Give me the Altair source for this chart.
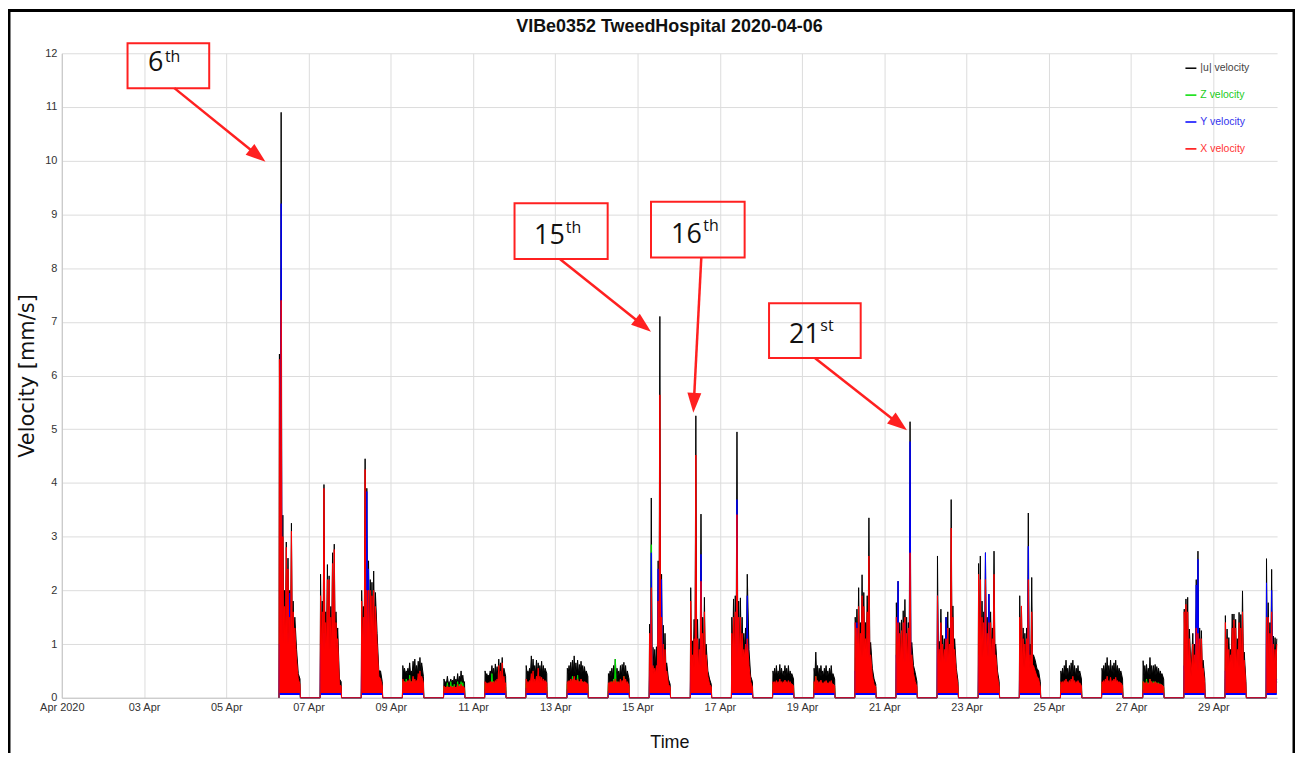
import math
import altair as alt
import pandas as pd

# ---------------------------------------------------------------- text
TITLE = "VIBe0352 TweedHospital 2020-04-06"
X_TITLE = "Time"
Y_TITLE = "Velocity [mm/s]"

# ---------------------------------------------------------------- series
SERIES = ["|u| velocity", "Z velocity", "Y velocity", "X velocity"]   # drawing order
SERIES_COLORS = ["#000000", "#00dd00", "#0000ff", "#ff0000"]
LEGEND_TEXT_COLORS = ["#444444", "#22cc22", "#3333ee", "#ff3333"]
AREA_FLOORS = [0.10, 0.07, 0.05, 0.09]

DAYS = list(range(6, 31))            # April 6 .. April 30
SAMPLE_HOURS = list(range(7, 20))    # 07:00 .. 19:00 (April 30 stops at 13:00)
TICK_DAYS = list(range(1, 30, 2))    # 01, 03, ..., 29 April

# hourly peak readings, one row per day (April 6 .. 30)
U_VEL = [
    [6.4, 10.9, 3.4, 2.0, 2.9, 2.6, 2.0, 3.25, 1.8, 1.5, 0.9, 0.45, 0.35],
    [2.3, 1.8, 3.97, 1.6, 2.48, 2.27, 1.7, 2.7, 2.86, 1.6, 1.3, 0.35, 0.3],
    [2.0, 1.7, 4.45, 3.9, 2.55, 2.2, 2.15, 2.36, 1.96, 1.2, 0.5, 0.5, 0.3],
    [0.6, 0.55, 0.5, 0.55, 0.65, 0.5, 0.68, 0.72, 0.6, 0.68, 0.75, 0.65, 0.4],
    [0.35, 0.3, 0.4, 0.3, 0.35, 0.33, 0.4, 0.35, 0.45, 0.4, 0.5, 0.42, 0.3],
    [0.5, 0.45, 0.42, 0.5, 0.6, 0.55, 0.63, 0.58, 0.72, 0.65, 0.75, 0.55, 0.4],
    [0.6, 0.5, 0.55, 0.78, 0.72, 0.6, 0.7, 0.65, 0.6, 0.68, 0.6, 0.55, 0.45],
    [0.55, 0.6, 0.66, 0.7, 0.78, 0.65, 0.7, 0.62, 0.68, 0.6, 0.58, 0.5, 0.4],
    [0.45, 0.5, 0.55, 0.6, 0.72, 0.55, 0.5, 0.6, 0.62, 0.66, 0.6, 0.5, 0.35],
    [1.37, 3.72, 0.94, 0.9, 0.95, 2.55, 7.1, 2.3, 1.35, 1.2, 0.65, 0.35, 0.25],
    [2.05, 1.06, 1.46, 5.25, 1.46, 1.1, 3.42, 1.5, 1.87, 1.0, 0.5, 0.35, 0.25],
    [1.5, 1.84, 1.9, 4.95, 1.8, 1.86, 1.5, 1.2, 1.3, 2.3, 0.9, 0.4, 0.3],
    [0.5, 0.55, 0.6, 0.5, 0.62, 0.55, 0.5, 0.6, 0.55, 0.6, 0.5, 0.45, 0.35],
    [0.55, 0.85, 0.6, 0.55, 0.6, 0.5, 0.55, 0.6, 0.5, 0.55, 0.6, 0.45, 0.35],
    [1.5, 1.65, 2.05, 1.4, 2.29, 1.96, 1.4, 1.9, 3.35, 1.03, 0.55, 0.35, 0.25],
    [1.77, 2.17, 1.4, 1.45, 1.62, 1.83, 1.5, 1.4, 5.14, 1.03, 0.6, 0.47, 0.3],
    [2.64, 1.05, 1.65, 1.16, 1.1, 1.5, 1.6, 1.3, 3.69, 1.71, 1.1, 0.55, 0.3],
    [2.5, 2.64, 1.8, 1.6, 2.7, 1.5, 1.93, 1.6, 1.3, 2.73, 1.0, 0.5, 0.3],
    [1.9, 1.7, 1.3, 1.2, 1.3, 3.44, 1.0, 2.24, 0.8, 0.7, 0.55, 0.5, 0.3],
    [0.5, 0.55, 0.6, 0.7, 0.55, 0.6, 0.65, 0.7, 0.6, 0.55, 0.6, 0.5, 0.35],
    [0.55, 0.6, 0.65, 0.75, 0.6, 0.7, 0.6, 0.65, 0.7, 0.6, 0.55, 0.5, 0.35],
    [0.69, 0.6, 0.62, 0.55, 0.75, 0.6, 0.6, 0.62, 0.58, 0.55, 0.5, 0.45, 0.35],
    [1.65, 1.84, 1.87, 1.28, 0.5, 1.2, 1.0, 2.2, 2.73, 1.3, 1.25, 0.7, 0.35],
    [1.53, 1.28, 1.12, 0.9, 1.56, 1.56, 1.46, 1.1, 1.59, 1.55, 1.99, 0.85, 0.3],
    [2.59, 1.77, 1.4, 2.39, 1.15, 1.12, 1.1],
]

X_VEL = [
    [6.3, 7.4, 3.0, 1.7, 2.8, 2.4, 1.5, 3.1, 1.6, 1.3, 0.7, 0.35, 0.25],
    [1.9, 1.6, 3.9, 1.4, 2.2, 2.2, 1.5, 2.5, 2.76, 1.4, 1.1, 0.25, 0.22],
    [1.8, 1.5, 4.25, 2.0, 2.0, 2.0, 1.9, 2.0, 1.7, 1.0, 0.4, 0.35, 0.22],
    [0.35, 0.3, 0.3, 0.32, 0.35, 0.3, 0.4, 0.35, 0.32, 0.45, 0.5, 0.4, 0.28],
    [0.22, 0.2, 0.22, 0.2, 0.22, 0.2, 0.22, 0.2, 0.25, 0.22, 0.25, 0.22, 0.18],
    [0.3, 0.28, 0.28, 0.3, 0.3, 0.3, 0.32, 0.35, 0.6, 0.5, 0.65, 0.4, 0.28],
    [0.35, 0.3, 0.32, 0.45, 0.5, 0.35, 0.4, 0.55, 0.4, 0.38, 0.35, 0.32, 0.28],
    [0.3, 0.32, 0.35, 0.35, 0.4, 0.33, 0.35, 0.3, 0.35, 0.3, 0.3, 0.28, 0.25],
    [0.28, 0.3, 0.3, 0.32, 0.35, 0.3, 0.3, 0.35, 0.32, 0.4, 0.35, 0.3, 0.22],
    [1.2, 2.05, 0.6, 0.55, 0.6, 1.8, 5.64, 1.5, 1.0, 0.9, 0.5, 0.25, 0.2],
    [1.8, 0.8, 1.1, 4.52, 1.1, 0.9, 2.17, 1.2, 1.6, 0.8, 0.4, 0.25, 0.2],
    [1.2, 1.5, 1.6, 3.41, 1.5, 1.5, 1.2, 0.9, 1.0, 1.1, 0.6, 0.3, 0.2],
    [0.3, 0.3, 0.32, 0.3, 0.35, 0.3, 0.3, 0.33, 0.3, 0.32, 0.3, 0.26, 0.22],
    [0.3, 0.4, 0.32, 0.3, 0.33, 0.28, 0.3, 0.32, 0.28, 0.3, 0.32, 0.26, 0.22],
    [1.4, 1.3, 1.7, 1.2, 1.9, 1.7, 1.1, 1.6, 2.64, 0.8, 0.4, 0.25, 0.2],
    [1.5, 1.4, 1.2, 1.25, 1.4, 1.5, 1.2, 1.3, 2.7, 0.8, 0.45, 0.3, 0.2],
    [1.9, 0.9, 1.4, 1.0, 0.9, 1.1, 1.3, 1.0, 3.16, 1.5, 0.9, 0.45, 0.2],
    [2.3, 2.2, 1.5, 1.4, 2.2, 1.2, 1.4, 1.4, 1.1, 2.3, 0.8, 0.4, 0.2],
    [1.5, 1.71, 1.1, 1.0, 1.1, 2.2, 0.8, 1.6, 0.6, 0.5, 0.4, 0.35, 0.2],
    [0.3, 0.3, 0.32, 0.35, 0.3, 0.32, 0.35, 0.4, 0.32, 0.3, 0.32, 0.28, 0.22],
    [0.3, 0.32, 0.35, 0.4, 0.32, 0.38, 0.32, 0.35, 0.38, 0.32, 0.3, 0.28, 0.22],
    [0.3, 0.28, 0.3, 0.26, 0.35, 0.3, 0.28, 0.3, 0.28, 0.26, 0.25, 0.24, 0.2],
    [1.6, 1.74, 1.6, 1.1, 0.4, 1.0, 0.8, 1.3, 1.2, 1.1, 1.1, 0.55, 0.25],
    [1.4, 1.1, 0.9, 0.8, 1.3, 1.45, 1.3, 0.9, 1.4, 1.3, 1.6, 0.7, 0.22],
    [1.5, 1.5, 1.2, 1.6, 1.0, 0.9, 1.0],
]

Y_VEL = [
    [1.0, 9.2, 1.2, 0.8, 1.0, 1.2, 1.95, 1.0, 1.2, 0.8, 0.4, 0.2, 0.12],
    [1.0, 0.7, 1.2, 0.8, 1.0, 0.9, 0.8, 1.0, 1.0, 0.6, 0.5, 0.15, 0.12],
    [0.8, 0.7, 1.5, 3.84, 2.4, 1.0, 1.2, 1.0, 0.9, 0.6, 0.25, 0.25, 0.12],
    [0.2, 0.18, 0.2, 0.2, 0.22, 0.2, 0.25, 0.22, 0.2, 0.25, 0.25, 0.22, 0.15],
    [0.12, 0.12, 0.13, 0.12, 0.12, 0.12, 0.13, 0.12, 0.14, 0.13, 0.14, 0.13, 0.1],
    [0.15, 0.15, 0.15, 0.15, 0.16, 0.16, 0.18, 0.16, 0.2, 0.18, 0.2, 0.16, 0.12],
    [0.18, 0.15, 0.16, 0.2, 0.2, 0.18, 0.2, 0.2, 0.18, 0.18, 0.17, 0.16, 0.13],
    [0.15, 0.15, 0.16, 0.17, 0.18, 0.16, 0.17, 0.15, 0.16, 0.15, 0.15, 0.14, 0.12],
    [0.13, 0.14, 0.15, 0.15, 0.16, 0.15, 0.15, 0.16, 0.15, 0.17, 0.15, 0.14, 0.1],
    [0.5, 2.7, 0.4, 0.35, 0.4, 2.4, 1.5, 2.2, 0.6, 0.6, 0.3, 0.15, 0.1],
    [0.6, 0.4, 0.5, 1.5, 0.5, 0.4, 2.67, 0.6, 0.7, 0.4, 0.2, 0.14, 0.1],
    [0.6, 0.8, 1.0, 3.69, 0.9, 1.0, 0.7, 0.6, 0.8, 1.9, 0.4, 0.15, 0.1],
    [0.15, 0.15, 0.16, 0.15, 0.17, 0.15, 0.15, 0.16, 0.15, 0.16, 0.15, 0.13, 0.11],
    [0.15, 0.18, 0.16, 0.15, 0.16, 0.15, 0.15, 0.16, 0.15, 0.15, 0.16, 0.13, 0.11],
    [0.5, 1.4, 0.6, 0.6, 0.8, 0.7, 0.5, 0.7, 1.2, 0.4, 0.2, 0.13, 0.1],
    [0.8, 2.17, 0.6, 0.6, 0.7, 1.4, 0.6, 0.6, 4.77, 0.4, 0.25, 0.2, 0.1],
    [1.9, 0.5, 0.7, 0.5, 0.5, 1.5, 0.7, 0.6, 1.4, 0.6, 0.4, 0.2, 0.1],
    [0.8, 0.9, 0.7, 0.6, 2.7, 0.6, 1.93, 0.6, 0.5, 1.0, 0.4, 0.2, 0.1],
    [0.7, 0.6, 0.5, 0.5, 0.5, 2.82, 0.4, 0.9, 0.3, 0.3, 0.2, 0.2, 0.1],
    [0.15, 0.15, 0.16, 0.17, 0.15, 0.16, 0.17, 0.18, 0.16, 0.15, 0.16, 0.14, 0.1],
    [0.15, 0.16, 0.16, 0.18, 0.16, 0.17, 0.16, 0.16, 0.17, 0.16, 0.15, 0.14, 0.1],
    [0.15, 0.14, 0.15, 0.14, 0.17, 0.15, 0.14, 0.15, 0.14, 0.14, 0.13, 0.12, 0.1],
    [0.6, 0.7, 0.8, 0.5, 0.2, 0.5, 0.5, 2.1, 2.58, 0.6, 0.5, 0.3, 0.12],
    [0.5, 0.5, 0.4, 0.4, 0.6, 0.5, 0.5, 0.4, 0.6, 0.6, 0.8, 0.3, 0.1],
    [2.14, 0.6, 0.5, 2.0, 0.4, 0.4, 0.35],
]

Z_VEL = [
    [0.2, 0.5, 0.3, 0.2, 0.3, 0.3, 0.3, 0.3, 0.3, 0.25, 0.2, 0.15, 0.12],
    [0.3, 0.3, 0.4, 0.3, 0.35, 0.3, 0.3, 0.35, 0.4, 0.3, 0.25, 0.15, 0.13],
    [0.3, 0.3, 0.4, 0.4, 0.35, 0.3, 0.3, 0.3, 0.3, 0.25, 0.2, 0.2, 0.13],
    [0.3, 0.3, 0.35, 0.3, 0.42, 0.3, 0.35, 0.3, 0.3, 0.35, 0.3, 0.3, 0.2],
    [0.2, 0.2, 0.28, 0.2, 0.3, 0.22, 0.25, 0.2, 0.3, 0.25, 0.3, 0.28, 0.18],
    [0.25, 0.25, 0.25, 0.28, 0.45, 0.3, 0.3, 0.3, 0.35, 0.3, 0.3, 0.28, 0.2],
    [0.25, 0.25, 0.28, 0.3, 0.3, 0.3, 0.3, 0.3, 0.28, 0.3, 0.28, 0.25, 0.2],
    [0.25, 0.3, 0.3, 0.4, 0.35, 0.3, 0.42, 0.3, 0.3, 0.3, 0.28, 0.25, 0.2],
    [0.25, 0.28, 0.3, 0.35, 0.72, 0.3, 0.28, 0.3, 0.3, 0.4, 0.3, 0.25, 0.18],
    [0.4, 2.85, 0.4, 0.35, 0.4, 0.5, 0.6, 0.5, 0.4, 0.4, 0.25, 0.15, 0.12],
    [0.4, 0.35, 0.4, 0.5, 0.35, 0.3, 0.5, 0.35, 0.4, 0.35, 0.2, 0.15, 0.12],
    [0.35, 0.4, 0.4, 0.5, 0.4, 0.4, 0.35, 0.3, 0.35, 0.35, 0.25, 0.15, 0.12],
    [0.25, 0.28, 0.3, 0.25, 0.3, 0.28, 0.25, 0.3, 0.28, 0.3, 0.25, 0.22, 0.18],
    [0.26, 0.4, 0.3, 0.28, 0.3, 0.26, 0.28, 0.3, 0.26, 0.28, 0.3, 0.22, 0.18],
    [0.35, 0.35, 0.4, 0.35, 0.4, 0.4, 0.35, 0.4, 0.5, 0.3, 0.2, 0.15, 0.12],
    [0.35, 0.4, 0.35, 0.35, 0.35, 0.4, 0.35, 0.35, 0.5, 0.35, 0.3, 0.25, 0.12],
    [0.4, 0.35, 0.45, 0.35, 0.35, 0.4, 0.4, 0.35, 0.5, 0.4, 0.35, 0.25, 0.12],
    [0.4, 0.45, 0.4, 0.35, 0.4, 0.35, 0.4, 0.35, 0.35, 0.4, 0.3, 0.2, 0.12],
    [0.35, 0.35, 0.35, 0.3, 0.35, 0.5, 0.3, 0.4, 0.3, 0.25, 0.2, 0.2, 0.12],
    [0.25, 0.28, 0.3, 0.3, 0.28, 0.3, 0.3, 0.3, 0.28, 0.26, 0.28, 0.24, 0.18],
    [0.26, 0.28, 0.3, 0.32, 0.28, 0.3, 0.28, 0.3, 0.3, 0.28, 0.26, 0.24, 0.18],
    [0.3, 0.28, 0.35, 0.28, 0.35, 0.3, 0.3, 0.3, 0.28, 0.28, 0.26, 0.24, 0.18],
    [0.35, 0.4, 0.4, 0.35, 0.25, 0.35, 0.3, 0.4, 0.45, 0.35, 0.35, 0.25, 0.15],
    [0.35, 0.3, 0.3, 0.3, 0.35, 0.35, 0.35, 0.3, 0.35, 0.35, 0.4, 0.25, 0.13],
    [0.35, 0.35, 0.3, 0.4, 0.3, 0.3, 0.3],
]

# typical low level between the hourly peaks, one value per day (April 6 .. 30)
U_LOW = [1.2, 1.1, 1.2, 0.45, 0.28, 0.4, 0.45, 0.45, 0.4, 0.6, 0.7, 0.9, 0.4,
         0.4, 0.9, 0.8, 0.8, 0.9, 0.7, 0.4, 0.45, 0.42, 0.6, 0.7, 0.7]
X_LOW = [1.0, 0.9, 1.0, 0.28, 0.18, 0.25, 0.28, 0.28, 0.25, 0.45, 0.55, 0.75, 0.25,
         0.25, 0.75, 0.65, 0.65, 0.75, 0.55, 0.25, 0.27, 0.25, 0.5, 0.55, 0.55]
Y_LOW = [0.4, 0.4, 0.4, 0.15, 0.1, 0.13, 0.14, 0.13, 0.12, 0.2, 0.25, 0.3, 0.12,
         0.12, 0.3, 0.3, 0.3, 0.3, 0.25, 0.12, 0.13, 0.12, 0.22, 0.25, 0.3]
Z_LOW = [0.2, 0.2, 0.2, 0.2, 0.15, 0.2, 0.2, 0.2, 0.2, 0.2, 0.2, 0.2, 0.2,
         0.2, 0.2, 0.2, 0.2, 0.2, 0.2, 0.2, 0.2, 0.2, 0.2, 0.2, 0.2]

SERIES_DATA = [U_VEL, Z_VEL, Y_VEL, X_VEL]
SERIES_LOW = [U_LOW, Z_LOW, Y_LOW, X_LOW]

# annotation call-outs (label, superscript) -- placed in pixel space of the plot
ANNOTATIONS = [
    {"main": "6", "sup": "th", "box": (66, -10, 148, 35), "main_at": (102, 18), "sup_at": (103.5, 8.5),
     "tail": (113, 35), "tip": (204.5, 109)},
    {"main": "15", "sup": "th", "box": (454.5, 150.5, 548, 206.5), "main_at": (505, 191.5), "sup_at": (506, 180),
     "tail": (500, 206.5), "tip": (591.5, 279.5)},
    {"main": "16", "sup": "th", "box": (591.5, 149, 685.5, 205), "main_at": (642.5, 190), "sup_at": (644, 178),
     "tail": (642, 205), "tip": (634, 361)},
    {"main": "21", "sup": "st", "box": (710, 251, 802, 306), "main_at": (761, 291), "sup_at": (761.5, 279),
     "tail": (756, 306), "tip": (848.5, 378.5)},
]

# ---------------------------------------------------------------- styles
FONT = "Liberation Sans, Arial, sans-serif"
FONT_ANN = "Open Sans, Liberation Sans, sans-serif"
ANN_RED = "#ff2020"
PLOT_W, PLOT_H = 1220, 647

# ---------------------------------------------------------------- tables
line_rows, area_rows = [], []
for s_name, table, lows in zip(SERIES, SERIES_DATA, SERIES_LOW):
    for day, vals, low in zip(DAYS, table, lows):
        line_rows.append({"series": s_name, "day": day, "t": pd.Timestamp(2020, 4, day, 6, 45), "v": 0.0})
        for k, (h, v) in enumerate(zip(SAMPLE_HOURS, vals)):
            ts = pd.Timestamp(2020, 4, day, h)
            line_rows.append({"series": s_name, "day": day, "t": ts, "v": v})
            area_rows.append({"series": s_name, "day": day, "t": ts, "v": v})
            if k + 1 < len(vals) and v > low and vals[k + 1] > low:
                tm = pd.Timestamp(2020, 4, day, h, 30)
                line_rows.append({"series": s_name, "day": day, "t": tm, "v": low})
                area_rows.append({"series": s_name, "day": day, "t": tm, "v": low})
        if len(vals) == len(SAMPLE_HOURS):
            line_rows.append({"series": s_name, "day": day, "t": pd.Timestamp(2020, 4, day, 19, 15), "v": 0.0})

line_df = pd.DataFrame(line_rows)
area_df = pd.DataFrame(area_rows)
ONE = pd.DataFrame({"k": [0]})

x_enc = alt.X(
    "t:T",
    title=X_TITLE,
    scale=alt.Scale(domain=[alt.DateTime(year=2020, month=4, date=1),
                            alt.DateTime(year=2020, month=4, date=30, hours=13, minutes=10)]),
    axis=alt.Axis(
        values=[alt.DateTime(year=2020, month=4, date=d) for d in TICK_DAYS],
        labelExpr="date(datum.value) == 1 ? 'Apr 2020' : timeFormat(datum.value, '%d %b')",
        labelFlush=False, labelFont=FONT, labelFontSize=11, labelColor="#333333",
        labelPadding=4, ticks=False, grid=True, gridColor="#dcdcdc", domainColor="#c4c4c4",
        titleFont=FONT, titleFontSize=18, titleFontWeight="normal", titleColor="#111111",
        titleY=50, titleBaseline="alphabetic",
    ),
)
y_axis = alt.Axis(
    values=list(range(0, 13)), labelFont=FONT, labelFontSize=11, labelColor="#333333",
    labelPadding=5, ticks=False, grid=True, gridColor="#dcdcdc", domainColor="#c4c4c4",
    titleFont="DejaVu Sans", titleFontSize=21, titleFontWeight="normal", titleColor="#111111",
    titleAngle=270, titleX=-34, titleY=PLOT_H / 2, titleBaseline="middle", titleAlign="center",
)
y_scale = alt.Scale(domain=[0, 12], nice=False)

layers = []
for s_name, color, floor in zip(SERIES, SERIES_COLORS, AREA_FLOORS):
    layers.append(
        alt.Chart(area_df[area_df["series"] == s_name]).mark_area(color=color, opacity=1).encode(
            x=x_enc, y=alt.Y("v:Q", title=Y_TITLE, scale=y_scale, axis=y_axis),
            y2=alt.datum(floor), detail="day:N")
    )
    layers.append(
        alt.Chart(line_df[line_df["series"] == s_name]).mark_line(color=color, strokeWidth=1).encode(
            x=x_enc, y=alt.Y("v:Q", title=Y_TITLE, scale=y_scale, axis=y_axis))
    )

# legend (inside plot, top right)
for i, (s_name, color, tcolor) in enumerate(zip(SERIES, SERIES_COLORS, LEGEND_TEXT_COLORS)):
    yy = 15 + 27 * i
    layers.append(alt.Chart(ONE).mark_rule(color=color, strokeWidth=1.5).encode(
        x=alt.value(1128), x2=alt.value(1139), y=alt.value(yy)))
    layers.append(alt.Chart(ONE).mark_text(text=s_name, font=FONT, fontSize=10.5, color=tcolor,
                                           align="left", baseline="middle").encode(
        x=alt.value(1143), y=alt.value(yy)))

# chart title
layers.append(alt.Chart(ONE).mark_text(text=TITLE, font=FONT, fontSize=18, fontWeight="bold",
                                       color="#111111", align="center", baseline="alphabetic").encode(
    x=alt.value(610), y=alt.value(-21)))

# annotation call-outs
for a in ANNOTATIONS:
    bx1, by1, bx2, by2 = a["box"]
    layers.append(alt.Chart(ONE).mark_rect(fillOpacity=0, stroke=ANN_RED, strokeWidth=2).encode(
        x=alt.value(bx1), x2=alt.value(bx2), y=alt.value(by1), y2=alt.value(by2)))
    layers.append(alt.Chart(ONE).mark_text(text=a["main"], font=FONT_ANN, fontSize=27, color="#111111",
                                           align="right", baseline="alphabetic").encode(
        x=alt.value(a["main_at"][0]), y=alt.value(a["main_at"][1])))
    layers.append(alt.Chart(ONE).mark_text(text=a["sup"], font=FONT_ANN, fontSize=16, color="#111111",
                                           align="left", baseline="alphabetic").encode(
        x=alt.value(a["sup_at"][0]), y=alt.value(a["sup_at"][1])))
    tx, ty = a["tail"]
    px, py = a["tip"]
    dx, dy = px - tx, py - ty
    length = math.hypot(dx, dy)
    ux, uy = dx / length, dy / length
    cx, cy = px - ux * 10, py - uy * 10
    angle = math.degrees(math.atan2(dx, -dy)) % 360
    layers.append(alt.Chart(ONE).mark_rule(color=ANN_RED, strokeWidth=2.5).encode(
        x=alt.value(tx), y=alt.value(ty), x2=alt.value(cx), y2=alt.value(cy)))
    layers.append(alt.Chart(ONE).mark_point(shape="M0,-1L0.7,1L-0.7,1Z", filled=True, size=400,
                                            angle=angle, color=ANN_RED, opacity=1, strokeWidth=0).encode(
        x=alt.value(cx), y=alt.value(cy)))

# outer frame of the figure
layers.append(alt.Chart(ONE).mark_rect(fillOpacity=0, stroke="#000000", strokeWidth=3).encode(
    x=alt.value(-53), x2=alt.value(1237), y=alt.value(-43), y2=alt.value(760)))

chart = alt.layer(*layers).properties(
    width=PLOT_W, height=PLOT_H,
    autosize=alt.AutoSizeParams(type="none"),
    padding={"left": 54, "top": 44, "right": 18, "bottom": 54},
).configure_view(stroke=None)

chart.save("out.html", embed_options={"renderer": "svg", "actions": False})
